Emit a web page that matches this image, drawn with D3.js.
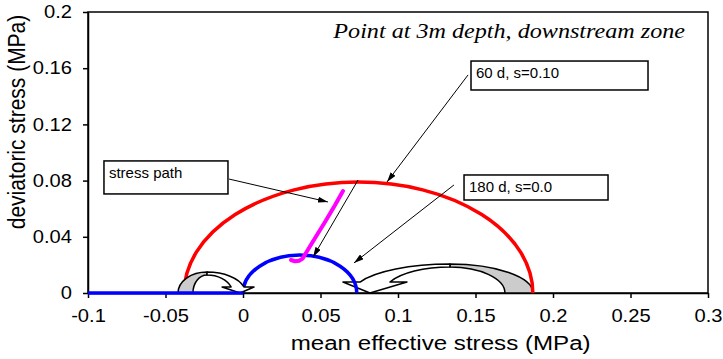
<!DOCTYPE html>
<html>
<head>
<meta charset="utf-8">
<script src="https://cdn.jsdelivr.net/npm/d3@7"></script>
<style>
body { margin: 0; background: #fff; }
svg { display: block; }
</style>
</head>
<body>
<div id="chart"></div>
<script>
const w = 723;
const h = 359;
const margin = {top: 12, right: 15, bottom: 66, left: 88};
const stretch = 1.15; // the reference text is a bit wide

// axis ticks
const xTicks = [-0.1, -0.05, 0, 0.05, 0.1, 0.15, 0.2, 0.25, 0.3];
const xTickLabels = ['-0.1', '-0.05', '0', '0.05', '0.1', '0.15', '0.2', '0.25', '0.3'];
const yTicks = [0, 0.04, 0.08, 0.12, 0.16, 0.2];
const yTickLabels = ['0', '0.04', '0.08', '0.12', '0.16', '0.2'];

// Mohr circles (p min, p max, top q)
const circleNames = ['60 d, s=0.10', '180 d, s=0.0'];
const circlePMin = [-0.038, 0.0];
const circlePMax = [0.187, 0.0734];
const circleQMax = [0.079, 0.027];
const circleColors = ['#ff0000', '#0000ff'];

// blue line along the p axis
const baseP = [-0.1, 0];
const baseQ = [0, 0];

// stress path
const pathP = [0.0310, 0.0335, 0.0362, 0.0385, 0.0406, 0.0465, 0.0529, 0.0594, 0.0645];
const pathQ = [0.0235, 0.0226, 0.0230, 0.0245, 0.0285, 0.0391, 0.0505, 0.0626, 0.0726];

// text boxes: [p left, q top, p right, q bottom]
const boxTexts = ['60 d, s=0.10', '180 d, s=0.0', 'stress path'];
const boxCorners = [[0.1471, 0.1651, 0.2613, 0.1445], [0.1426, 0.0840, 0.2355, 0.0662], [-0.0897, 0.0940, -0.0097, 0.0705]];

// callout arrows: [p from, q from, p to, q to]
const callouts = [[0.1452, 0.1552, 0.0929, 0.0790], [0.1361, 0.0769, 0.0716, 0.0214], [-0.0090, 0.0811, 0.0548, 0.0648], [0.0742, 0.0804, 0.0452, 0.0256]];

// curved block arrows (data units)
const blockArrows = [
  {footOuter: 0.1871, footInner: 0.1690, topP: 0.1335, topOuter: 0.0206, topInner: 0.0185,
   wingQ: 0.0078, shaftOuter: 0.0755, shaftInner: 0.0948, wingOuter: 0.0645, wingInner: 0.1058, tipP: 0.0819},
  {footOuter: -0.0419, footInner: -0.0323, topP: -0.0232, topOuter: 0.0149, topInner: 0.0128,
   wingQ: 0.0043, shaftOuter: 0.0006, shaftInner: -0.0077, wingOuter: 0.0071, wingInner: -0.0135, tipP: -0.0019}
];

const x = d3.scaleLinear().domain([-0.1, 0.3]).range([margin.left, w - margin.right]);
const y = d3.scaleLinear().domain([0, 0.2]).range([h - margin.bottom, margin.top]);

const svg = d3.select('#chart').append('svg')
  .attr('width', w)
  .attr('height', h)
  .style('font-family', '"Liberation Sans", Arial, sans-serif');

svg.append('defs').append('marker')
  .attr('id', 'head')
  .attr('markerUnits', 'userSpaceOnUse')
  .attr('viewBox', '0 0 10 6')
  .attr('refX', 10).attr('refY', 3)
  .attr('markerWidth', 10).attr('markerHeight', 6)
  .attr('orient', 'auto')
  .append('path').attr('d', 'M0,0 L10,3 L0,6 Z').attr('fill', '#000');

// axes
const xAxis = d3.axisBottom(x).tickValues(xTicks).tickFormat((d, i) => xTickLabels[i])
  .tickSize(5).tickSizeOuter(0).tickPadding(12);
const yAxis = d3.axisLeft(y).tickValues(yTicks).tickFormat((d, i) => yTickLabels[i])
  .tickSize(5).tickSizeOuter(0).tickPadding(9);

const gx = svg.append('g').attr('transform', 'translate(0,' + y(0) + ')').call(xAxis);
const gy = svg.append('g').attr('transform', 'translate(' + x(-0.1) + ',0)').call(yAxis);
[gx, gy].forEach(g => {
  g.selectAll('path,line').attr('stroke', '#000').attr('stroke-width', 1.5);
  g.selectAll('text')
    .attr('fill', '#000')
    .attr('transform', 'scale(' + stretch + ',1)')
    .style('font-size', '17.5px')
    .style('font-family', '"Liberation Sans", Arial, sans-serif');
});

svg.append('rect')
  .attr('x', x(-0.1)).attr('y', y(0.2))
  .attr('width', x(0.3) - x(-0.1)).attr('height', y(0) - y(0.2))
  .attr('fill', 'none').attr('stroke', '#000').attr('stroke-width', 1.5);

svg.append('text')
  .text('mean effective stress (MPa)')
  .attr('transform', 'translate(' + x(0.1275) + ',350) scale(' + stretch + ',1)')
  .attr('text-anchor', 'middle').style('font-size', '21px');

svg.append('text')
  .text('deviatoric stress (MPa)')
  .attr('transform', 'translate(25,122) scale(' + stretch + ',1) rotate(-90)')
  .attr('text-anchor', 'middle').style('font-size', '21px');

svg.append('text')
  .text('Point at 3m depth, downstream zone')
  .attr('transform', 'translate(685,38) scale(' + stretch + ',1)')
  .attr('text-anchor', 'end')
  .style('font-family', '"Liberation Serif", "Times New Roman", serif')
  .style('font-style', 'italic')
  .style('font-size', '21px');

// elliptical arc between two points, ellipse centred at (cx, cy)
function arcTo(cx, cy, x1, y1, x2, y2) {
  const a1 = (x1 - cx) ** 2, b1 = (y1 - cy) ** 2;
  const a2 = (x2 - cx) ** 2, b2 = (y2 - cy) ** 2;
  const det = a1 * b2 - a2 * b1;
  const u = (b2 - b1) / det;
  const v = (a1 - a2) / det;
  const rx = 1 / Math.sqrt(u), ry = 1 / Math.sqrt(v);
  const cross = (x1 - cx) * (y2 - cy) - (y1 - cy) * (x2 - cx);
  return 'A' + rx + ',' + ry + ' 0 0 ' + (cross > 0 ? 1 : 0) + ' ' + x2 + ',' + y2;
}

function drawBlock(a) {
  const y0 = y(0), cx = x(a.topP);
  const back = 'M' + x(a.footOuter) + ',' + y0
    + arcTo(cx, y0, x(a.footOuter), y0, cx, y(a.topOuter))
    + 'L' + cx + ',' + y(a.topInner)
    + arcTo(cx, y0, cx, y(a.topInner), x(a.footInner), y0) + 'Z';
  const front = 'M' + cx + ',' + y(a.topOuter)
    + arcTo(cx, y0, cx, y(a.topOuter), x(a.shaftOuter), y(a.wingQ))
    + 'L' + x(a.wingOuter) + ',' + y(a.wingQ)
    + 'L' + x(a.tipP) + ',' + y0
    + 'L' + x(a.wingInner) + ',' + y(a.wingQ)
    + 'L' + x(a.shaftInner) + ',' + y(a.wingQ)
    + arcTo(cx, y0, x(a.shaftInner), y(a.wingQ), cx, y(a.topInner)) + 'Z';
  svg.append('path').attr('d', back).attr('fill', '#cccccc').attr('stroke', '#000').attr('stroke-width', 1.5).attr('stroke-linejoin', 'round');
  svg.append('path').attr('d', front).attr('fill', '#fff').attr('stroke', '#000').attr('stroke-width', 1.5).attr('stroke-linejoin', 'round');
}

drawBlock(blockArrows[0]);

// Mohr circles
circleNames.forEach((name, i) => {
  const x1 = x(circlePMin[i]), x2 = x(circlePMax[i]);
  const rx = (x2 - x1) / 2, ry = y(0) - y(circleQMax[i]);
  svg.append('path')
    .attr('d', 'M' + x1 + ',' + y(0) + ' A' + rx + ',' + ry + ' 0 0 1 ' + x2 + ',' + y(0))
    .attr('fill', 'none')
    .attr('stroke', circleColors[i])
    .attr('stroke-width', 3.5);
});

drawBlock(blockArrows[1]);

const line = d3.line().x(d => x(d[0])).y(d => y(d[1]));

svg.append('path')
  .attr('d', line(d3.zip(baseP, baseQ)))
  .attr('fill', 'none').attr('stroke', '#0000ff').attr('stroke-width', 3.5);

svg.append('path')
  .attr('d', line(d3.zip(pathP, pathQ)))
  .attr('fill', 'none').attr('stroke', '#ff00ff').attr('stroke-width', 4)
  .attr('stroke-linecap', 'round').attr('stroke-linejoin', 'round');

// callout arrows
svg.selectAll('line.callout')
  .data(callouts)
  .enter()
  .append('line')
  .attr('class', 'callout')
  .attr('x1', d => x(d[0])).attr('y1', d => y(d[1]))
  .attr('x2', d => x(d[2])).attr('y2', d => y(d[3]))
  .attr('stroke', '#000').attr('stroke-width', 1)
  .attr('marker-end', 'url(#head)');

// text boxes
boxTexts.forEach((t, i) => {
  const c = boxCorners[i];
  svg.append('rect')
    .attr('x', x(c[0])).attr('y', y(c[1]))
    .attr('width', x(c[2]) - x(c[0])).attr('height', y(c[3]) - y(c[1]))
    .attr('fill', '#fff').attr('stroke', '#000').attr('stroke-width', 1.5);
  svg.append('text')
    .text(t)
    .attr('x', x(c[0]) + 5).attr('y', y(c[1]) + 17)
    .style('font-size', '15px');
});
</script>
</body>
</html>
